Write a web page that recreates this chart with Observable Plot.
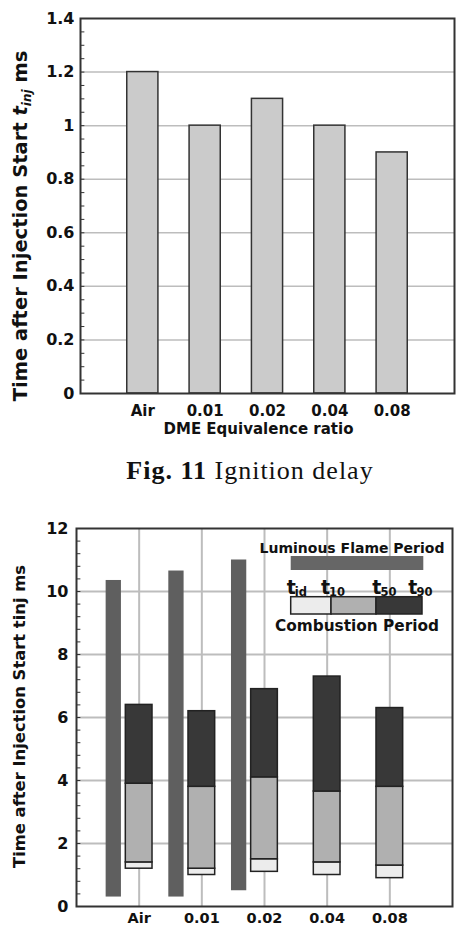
<!DOCTYPE html>
<html><head><meta charset="utf-8">
<script src="https://cdn.jsdelivr.net/npm/d3@7"></script>
<script src="https://cdn.jsdelivr.net/npm/@observablehq/plot@0.6"></script>
<style>
body{margin:0;background:#fff;width:458px;height:928px;overflow:hidden}
svg{display:block}
#cap{height:54px;box-sizing:border-box;padding-left:42px;text-align:center;font-family:"Liberation Serif",serif;font-size:26px;letter-spacing:1px;line-height:50px;color:#111;white-space:nowrap}
</style></head><body>
<div id="c1"></div><div id="cap"><b>Fig. 11</b> Ignition delay</div><div id="c2"></div>
<script>
// ---- data ----
const categories = ["Air", "0.01", "0.02", "0.04", "0.08"];
const ignitionDelay = [1.2, 1.0, 1.1, 1.0, 0.9];
const yTicks1 = [0, 0.2, 0.4, 0.6, 0.8, 1.0, 1.2, 1.4];
const tId = [1.2, 1.0, 1.1, 1.0, 0.9];
const t10 = [1.4, 1.2, 1.5, 1.4, 1.3];
const t50 = [3.9, 3.8, 4.1, 3.65, 3.8];
const t90 = [6.4, 6.2, 6.9, 7.3, 6.3];
const flameCategories = ["Air", "0.01", "0.02"];
const flameStart = [0.3, 0.3, 0.5];
const flameEnd = [10.35, 10.65, 11.0];
const yTicks2 = [0, 2, 4, 6, 8, 10, 12];
const legendLabels = ["id", "10", "50", "90"];

const FONT = "DejaVu Sans";
const ink = "#111";

// ---- chart 1 ----
const rows1 = categories.map((c, k) => ({pos: k + 1, cat: c, value: ignitionDelay[k]}));
const minor1 = d3.range(0, 1.4001, 0.05);
const chart1 = Plot.plot({
  width: 458, height: 446,
  marginLeft: 80, marginRight: 4, marginTop: 18, marginBottom: 53,
  style: {fontFamily: FONT, fontWeight: "bold", fontSize: "15px", color: ink, background: "#fff"},
  x: {domain: [0, 6]},
  y: {domain: [0, 1.4]},
  marks: [
    Plot.ruleY(yTicks1.slice(1, -1), {stroke: "#bdbdbd", strokeWidth: 1.5}),
    Plot.ruleY(minor1, {x1: 0, x2: 0.07, stroke: "#333"}),
    Plot.rect(rows1, {x1: d => d.pos - 0.25, x2: d => d.pos + 0.25, y1: 0, y2: "value", fill: "#cbcbcb", stroke: "#333", strokeWidth: 1.5}),
    Plot.frame({stroke: "#333", strokeWidth: 2}),
    Plot.axisY({ticks: yTicks1, tickSize: 0, tickPadding: 6, tickFormat: d => String(d), fontSize: 16, label: null}),
    Plot.axisX({ticks: rows1.map(d => d.pos), tickSize: 0, tickPadding: 12, tickFormat: p => categories[p - 1], fontSize: 15, label: null}),
    Plot.text(["DME Equivalence ratio"], {frameAnchor: "bottom", dy: 40, dx: -9, fontSize: 15})
  ]
});
document.getElementById("c1").appendChild(chart1);
{
  const t = d3.select(chart1).append("text")
    .attr("transform", "translate(27,226) rotate(-90)")
    .attr("text-anchor", "middle").attr("font-family", FONT).attr("font-weight", "bold")
    .attr("font-size", 19.5).attr("fill", ink);
  t.append("tspan").text("Time after Injection Start ");
  t.append("tspan").attr("font-style", "italic").text("t");
  t.append("tspan").attr("font-style", "italic").attr("font-size", 12).attr("dy", 4).text("inj");
  t.append("tspan").attr("dy", -4).text(" ms");
}

// ---- chart 2 ----
const rows2 = categories.map((c, k) => ({pos: k + 1, tId: tId[k], t10: t10[k], t50: t50[k], t90: t90[k]}));
const flames = flameCategories.map((c, k) => ({pos: categories.indexOf(c) + 1, y1: flameStart[k], y2: flameEnd[k]}));
const minor2 = d3.range(0, 12.001, 0.4);
const hw = 0.213, fo = 0.405, fw = 0.122;
const chart2 = Plot.plot({
  width: 458, height: 428,
  marginLeft: 76, marginRight: 6, marginTop: 28, marginBottom: 22,
  style: {fontFamily: FONT, fontWeight: "bold", fontSize: "15px", color: ink, background: "#fff"},
  x: {domain: [0, 6]},
  y: {domain: [0, 12]},
  marks: [
    Plot.ruleX(rows2, {x: "pos", stroke: "#bdbdbd", strokeWidth: 2}),
    Plot.ruleY(yTicks2.slice(1, -1), {stroke: "#bdbdbd", strokeWidth: 2}),
    Plot.ruleY(minor2, {x1: 0, x2: 0.07, stroke: "#333"}),
    Plot.rect(flames, {x1: d => d.pos - fo - fw, x2: d => d.pos - fo + fw, y1: "y1", y2: "y2", fill: "#5f5f5f"}),
    Plot.rect(rows2, {x1: d => d.pos - hw, x2: d => d.pos + hw, y1: "tId", y2: "t10", fill: "#ececec", stroke: "#222", strokeWidth: 1.5}),
    Plot.rect(rows2, {x1: d => d.pos - hw, x2: d => d.pos + hw, y1: "t10", y2: "t50", fill: "#b0b0b0", stroke: "#222", strokeWidth: 1.5}),
    Plot.rect(rows2, {x1: d => d.pos - hw, x2: d => d.pos + hw, y1: "t50", y2: "t90", fill: "#383838", stroke: "#222", strokeWidth: 1.5}),
    Plot.frame({stroke: "#333", strokeWidth: 2}),
    Plot.axisY({ticks: yTicks2, tickSize: 0, tickPadding: 8, fontSize: 16, label: null}),
    Plot.axisX({ticks: rows2.map(d => d.pos), tickSize: 0, tickPadding: 6, tickFormat: p => categories[p - 1], fontSize: 14.5, label: null})
  ]
});
document.getElementById("c2").appendChild(chart2);
{
  const s = d3.select(chart2);
  s.append("text")
    .attr("transform", "translate(25,216.5) rotate(-90)")
    .attr("text-anchor", "middle").attr("font-family", FONT).attr("font-weight", "bold")
    .attr("font-size", 15.5).attr("fill", ink)
    .attr("textLength", 303).attr("lengthAdjust", "spacingAndGlyphs")
    .text("Time after Injection Start tinj ms");
  // legend
  const g = s.append("g").attr("font-family", FONT).attr("font-weight", "bold").attr("fill", ink)
    .attr("text-anchor", "start");
  g.append("text").attr("x", 352).attr("y", 53).attr("font-size", 14).attr("text-anchor", "middle")
    .text("Luminous Flame Period");
  g.append("rect").attr("x", 290.7).attr("y", 56).attr("width", 132.6).attr("height", 14).attr("fill", "#666");
  const lx = [286.7, 321, 372.3, 408.3];
  legendLabels.forEach((lab, k) => {
    const tt = g.append("text").attr("x", lx[k]).attr("y", 94).attr("font-size", 19).attr("text-anchor", "start");
    tt.append("tspan").text("t");
    tt.append("tspan").attr("font-size", 11.5).attr("dy", 2).attr("dx", -1).text(lab);
  });
  const segX = [290.7, 331, 376, 422];
  const segFill = ["#ececec", "#b0b0b0", "#383838"];
  segFill.forEach((f, k) => {
    g.append("rect").attr("x", segX[k]).attr("y", 96.7).attr("width", segX[k + 1] - segX[k]).attr("height", 17.3)
      .attr("fill", f).attr("stroke", "#222").attr("stroke-width", 1.5);
  });
  g.append("text").attr("x", 357).attr("y", 131).attr("text-anchor", "middle").attr("font-size", 16)
    .attr("textLength", 164).attr("lengthAdjust", "spacingAndGlyphs").text("Combustion Period");
}
</script>
</body></html>
